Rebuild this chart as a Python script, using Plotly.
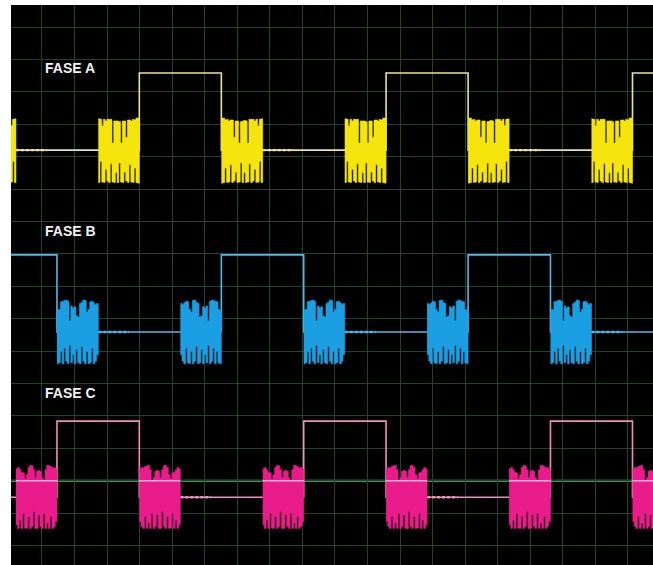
import plotly.graph_objects as go

# Time base: boundaries of the six-step commutation segments, in horizontal divisions
seg_edges = [-2.06, -0.80, 0.46, 1.73, 2.99, 4.25, 5.51, 6.78, 8.04, 9.30,
             10.57, 11.83, 13.09, 14.35, 15.62, 16.88, 18.14, 19.41]

# State of each phase per segment: H = high level, 0 = floating, N = PWM chopping
state_a = ["N", "0", "0", "N", "H", "H", "N", "0", "0", "N", "H", "H", "N", "0", "0", "N", "H"]
state_b = ["H", "H", "N", "0", "0", "N", "H", "H", "N", "0", "0", "N", "H", "H", "N", "0", "0"]
state_c = ["0", "N", "H", "H", "N", "0", "0", "N", "H", "H", "N", "0", "0", "N", "H", "H", "N"]

# Channel baselines and high-level offsets (divisions)
base_a, base_b, base_c = -3.80, -9.41, -14.51
high_a, high_b, high_c = 2.38, 2.38, 2.35

# Reference (ground) level drawn across phase C
ref_level_c = -14.0

# PWM burst envelopes (upper / lower edge relative to baseline), 24 steps per burst
top_a = [0.99, 0.99, 0.93, 0.95, 0.90, 0.93, 0.93, 0.40, 0.90, 0.90, 0.22, 0.88,
         0.90, 0.92, 0.90, 0.22, 0.95, 0.97, 0.95, 0.90, 0.95, 0.75, 0.95, 0.97]
bot_a = [-1.02, -1.00, -0.55, -1.00, -0.98, -0.45, -1.00, -0.95, -0.68, -1.00, -0.98, -0.40,
         -1.00, -0.70, -1.00, -0.98, -0.42, -1.00, -0.95, -0.60, -1.00, -0.98, -0.35, -1.00]
top_b = [0.68, 0.70, 0.93, 0.95, 0.97, 0.99, 0.95, 0.35, 0.80, 0.74, 0.78, 0.50,
         0.46, 0.88, 0.92, 0.99, 0.97, 0.62, 0.70, 0.93, 0.95, 0.90, 0.85, 0.88]
bot_b = [-0.98, -0.95, -0.60, -0.98, -0.50, -0.90, -0.98, -0.42, -0.95, -0.70, -0.98, -0.55,
         -0.95, -0.98, -0.45, -0.90, -0.98, -0.60, -0.98, -0.95, -0.50, -0.98, -0.90, -0.70]
top_c = [0.88, 0.92, 0.85, 0.77, 0.75, 0.58, 0.70, 0.92, 0.99, 0.97, 0.85, 0.62,
         0.80, 0.83, 0.80, 0.60, 0.52, 0.85, 0.99, 0.97, 0.95, 0.90, 0.92, 0.88]
bot_c = [-0.85, -0.96, -0.70, -0.96, -0.50, -0.95, -0.96, -0.60, -0.96, -0.90, -0.45, -0.96,
         -0.96, -0.55, -0.90, -0.96, -0.50, -0.96, -0.80, -0.96, -0.60, -0.96, -0.90, -0.75]

labels = ["FASE A", "FASE B", "FASE C"]

# Graticule positions (divisions)
grid_x = list(range(0, 19))
grid_y = list(range(-16, 1))

channels = [
    dict(state=state_a, base=base_a, high=high_a, top=top_a, bot=bot_a,
         fill="#f6e50c", line="#ece39a", label_y=-1.27),
    dict(state=state_b, base=base_b, high=high_b, top=top_b, bot=bot_b,
         fill="#1b9fe2", line="#55b6ea", label_y=-6.30),
    dict(state=state_c, base=base_c, high=high_c, top=top_c, bot=bot_c,
         fill="#ea1c8c", line="#f08fbd", label_y=-11.30),
]

fig = go.Figure()

for ch in channels:
    st, base = ch["state"], ch["base"]

    # stepped trace: high and floating levels with vertical transitions
    lx, ly = [], []
    for k, s in enumerate(st):
        y = base + ch["high"] if s == "H" else base
        lx += [seg_edges[k], seg_edges[k + 1]]
        ly += [y, y]
    fig.add_trace(go.Scatter(x=lx, y=ly, mode="lines",
                             line=dict(color=ch["line"], width=1.6),
                             hoverinfo="skip"))

    # ripple just after each burst on the floating level
    rx, ry = [], []
    for k, s in enumerate(st):
        if s == "0" and k > 0 and st[k - 1] == "N":
            x0 = seg_edges[k]
            x1 = x0 + 0.75 * (seg_edges[k + 1] - x0)
            rx += [x0, x1, None]
            ry += [base, base, None]
    fig.add_trace(go.Scatter(x=rx, y=ry, mode="lines",
                             line=dict(color=ch["line"], width=2.4, dash="3px,2px"),
                             hoverinfo="skip"))

    # PWM bursts as filled stepped envelopes
    bx, by = [], []
    n_burst = 0
    for k, s in enumerate(st):
        if s != "N":
            continue
        top, bot = ch["top"], ch["bot"]
        if n_burst % 2 == 1:
            top, bot = top[::-1], bot[::-1]
        n_burst += 1
        x0, x1 = seg_edges[k], seg_edges[k + 1]
        n = len(top)
        xs = [x0 + (x1 - x0) * i / n for i in range(n + 1)]
        for i in range(n):
            bx += [xs[i], xs[i + 1]]
            by += [base + top[i], base + top[i]]
        for i in range(n - 1, -1, -1):
            bx += [xs[i + 1], xs[i]]
            by += [base + bot[i], base + bot[i]]
        bx.append(None)
        by.append(None)
    fig.add_trace(go.Scatter(x=bx, y=by, mode="lines", fill="toself",
                             fillcolor=ch["fill"],
                             line=dict(color=ch["fill"], width=0.6),
                             hoverinfo="skip"))

# reference level shows through the phase C bursts as a lighter trace
cx, cy = [], []
for k, s in enumerate(state_c):
    if s == "N":
        cx += [seg_edges[k], seg_edges[k + 1], None]
        cy += [ref_level_c, ref_level_c, None]
fig.add_trace(go.Scatter(x=cx, y=cy, mode="lines",
                         line=dict(color="#f9b6d6", width=1.4),
                         hoverinfo="skip"))

for ch, text in zip(channels, labels):
    fig.add_annotation(x=0.03, y=ch["label_y"], xref="x", yref="y",
                       text="<b>" + text + "</b>", showarrow=False,
                       xanchor="left", yanchor="middle",
                       font=dict(family="Liberation Sans, Arial, sans-serif",
                                 size=14, color="#f2f2f2"))

# reference line of phase C
fig.add_shape(type="line", xref="paper", x0=0, x1=1, yref="y",
              y0=ref_level_c, y1=ref_level_c,
              line=dict(color="#4cc773", width=1.8), layer="below")

axis_common = dict(showgrid=True, tickmode="array", gridcolor="#22452a", gridwidth=1,
                   zeroline=False, showticklabels=False, ticks="", showline=False,
                   fixedrange=True)

fig.update_layout(
    width=653, height=565,
    margin=dict(l=11, r=0, t=5, b=0, pad=0),
    paper_bgcolor="#ffffff", plot_bgcolor="#000000",
    showlegend=False,
    xaxis=dict(range=[-0.952, 18.77], tickvals=grid_x, **axis_common),
    yaxis=dict(range=[-16.6, 0.679], tickvals=grid_y, **axis_common),
)

fig.write_html("out.html")
